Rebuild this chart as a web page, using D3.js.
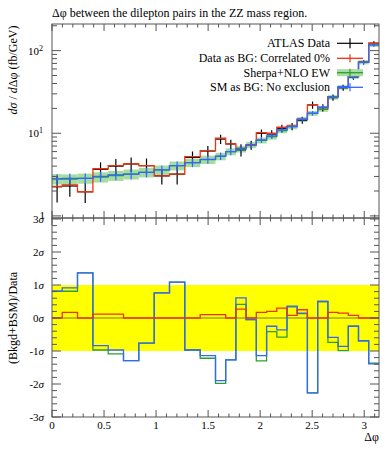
<!DOCTYPE html>
<html><head><meta charset="utf-8">
<script src="https://cdn.jsdelivr.net/npm/d3@7"></script>
<style>body{margin:0;background:#fff} text{font-family:"Liberation Serif","DejaVu Serif",serif;fill:#000}</style>
</head><body><svg id="c" width="392" height="450"></svg>
<script>
const binEdges = [0, 0.098, 0.245, 0.393, 0.540, 0.687, 0.834, 0.982, 1.129, 1.276, 1.424, 1.571,
  1.669, 1.767, 1.865, 1.963, 2.062, 2.160, 2.258, 2.356, 2.454, 2.553, 2.651, 2.749, 2.847, 2.945, 3.043, 3.142];
const dataVals = [2.25, 2.30, 1.96, 3.65, 4.0, 4.25, 4.05, 3.05, 3.2, 5.1, 6.1,
  8.5, 7.42, 6.3, 7.22, 10.0, 9.8, 11.5, 12.1, 14.4, 22.0, 20.4, 27.0, 35.5, 48.0, 72.4, 122.9];
const dataErr = [0.8, 0.6, 0.53, 0.8, 0.88, 0.85, 0.9, 0.65, 0.8, 0.92, 0.9,
  1.1, 0.95, 1.05, 0.9, 1.1, 1.1, 1.2, 1.2, 1.4, 2.2, 2.0, 2.3, 2.8, 3.5, 4.5, 7.0];
const redVals = [2.27, 2.38, 1.96, 3.72, 4.05, 4.25, 4.05, 3.05, 3.2, 5.21, 6.16,
  8.7, 7.42, 6.58, 7.22, 10.17, 10.0, 11.82, 12.26, 14.77, 22.0, 20.4, 27.7, 36.0, 48.4, 72.4, 122.9];
const greenVals = [2.80, 2.78, 2.85, 2.95, 3.08, 3.2, 3.37, 3.6, 4.05, 4.41, 4.80,
  5.25, 5.99, 6.45, 7.22, 8.2, 9.1, 10.8, 12.0, 14.7, 17.4, 19.5, 27.2, 36.0, 48.4, 72.4, 117.5];
const blueVals = [2.80, 2.85, 2.85, 3.0, 3.13, 3.2, 3.37, 3.6, 4.05, 4.41, 4.84,
  5.3, 5.99, 6.58, 7.22, 8.3, 9.28, 10.96, 12.02, 14.77, 17.46, 20.8, 27.7, 36.6, 48.4, 72.4, 117.2];
const mcErr = [0.4, 0.4, 0.4, 0.42, 0.43, 0.44, 0.45, 0.47, 0.5, 0.52, 0.55,
  0.55, 0.58, 0.6, 0.62, 0.68, 0.72, 0.8, 0.85, 1.0, 1.15, 1.3, 1.7, 2.2, 2.9, 4.2, 6.5];
const redSig = [0, 0.17, 0, 0.12, 0.12, 0, 0, 0, 0, 0, 0.1,
  0.1, 0, 0.27, 0, 0.17, 0.2, 0.3, 0.08, 0.25, 0, 0, 0.17, 0.15, 0.08, 0, 0];
const greenSig = [0.81, 0.81, 1.37, -0.97, -1.09, -1.29, -0.76, 0.76, 1.09, -0.97, -1.22,
  -1.98, -1.27, 0.41, -0.05, -1.30, -0.41, -0.58, 0.34, 0.13, -2.27, 0.50, -0.74, -0.99, -0.25, -0.69, -1.37];
const blueSig = [0.81, 0.91, 1.37, -0.84, -0.97, -1.29, -0.76, 0.76, 1.09, -0.97, -1.14,
  -1.90, -1.27, 0.61, -0.05, -1.14, -0.25, -0.36, 0.36, 0.15, -2.27, 0.50, -0.59, -0.86, -0.25, -0.69, -1.39];
const xTicks = [0, 0.5, 1, 1.5, 2, 2.5, 3];
const xTickLabels = ["0", "0.5", "1", "1.5", "2", "2.5", "3"];
const sigTicks = [-3, -2, -1, 0, 1, 2, 3];
const sigLabels = ["-3", "-2", "-1", "0", "1", "2", "3"];
const legendLabels = ["ATLAS Data", "Data as BG: Correlated 0%", "Sherpa+NLO EW", "SM as BG: No exclusion"];

const C = {red: "#ee3311", green: "#2e9e2e", band: "#a6dca0", blue: "#3366ff", frame: "#555"};
const L = 52, R = 379, T1 = 24, B1 = 218, T2 = 218, B2 = 417;
const svg = d3.select("#c");
const x = d3.scaleLinear().domain([0, 3.142]).range([L, R]);
const y = d3.scaleLog().domain([0.943, 210]).range([B1, T1]);
const ys = d3.scaleLinear().domain([-3, 3]).range([B2, T2 + 1]);

svg.append("text").attr("x", L).attr("y", 16.5).attr("font-size", 12)
  .text("Δφ between the dilepton pairs in the ZZ mass region.");

svg.append("clipPath").attr("id", "cp1").append("rect").attr("x", L).attr("y", T1).attr("width", R - L).attr("height", B1 - T1);
svg.append("clipPath").attr("id", "cp2").append("rect").attr("x", L).attr("y", T2).attr("width", R - L).attr("height", B2 - T2);

function stepPts(vals) {
  const p = vals.map((v, i) => [binEdges[i], v]);
  p.push([binEdges[binEdges.length - 1], vals[vals.length - 1]]);
  return p;
}
const g1 = svg.append("g").attr("clip-path", "url(#cp1)");
const stepTop = d3.line().x(d => x(d[0])).y(d => y(d[1])).curve(d3.curveStepAfter);
// band
const bandPts = [];
greenVals.forEach((v, i) => { bandPts.push({x0: binEdges[i], x1: binEdges[i+1], lo: v - mcErr[i], hi: v + mcErr[i]}); });
g1.selectAll("rect.band").data(bandPts).join("rect")
  .attr("x", d => x(d.x0)).attr("width", d => x(d.x1) - x(d.x0))
  .attr("y", d => y(d.hi)).attr("height", d => y(d.lo) - y(d.hi)).attr("fill", C.band);
// data first (MC drawn on top)
dataVals.forEach((v, i) => {
  const xc = x((binEdges[i] + binEdges[i+1]) / 2);
  g1.append("line").attr("x1", xc).attr("x2", xc).attr("y1", y(v - dataErr[i])).attr("y2", y(v + dataErr[i])).attr("stroke", "#000").attr("stroke-width", 1.2);
  g1.append("line").attr("x1", x(binEdges[i])).attr("x2", x(binEdges[i+1])).attr("y1", y(v)).attr("y2", y(v)).attr("stroke", "#000").attr("stroke-width", 1.2);
});
g1.append("path").attr("d", stepTop(stepPts(greenVals))).attr("fill", "none").attr("stroke", C.green).attr("stroke-width", 1.3);
g1.append("path").attr("d", stepTop(stepPts(redVals))).attr("fill", "none").attr("stroke", C.red).attr("stroke-width", 1.3);
g1.append("path").attr("d", stepTop(stepPts(blueVals))).attr("fill", "none").attr("stroke", C.blue).attr("stroke-width", 1.3);
blueVals.forEach((v, i) => {
  const xc = x((binEdges[i] + binEdges[i+1]) / 2);
  g1.append("line").attr("x1", xc).attr("x2", xc).attr("y1", y(v - mcErr[i])).attr("y2", y(v + mcErr[i])).attr("stroke", C.blue).attr("stroke-width", 1.2);
});

// bottom panel
const g2 = svg.append("g").attr("clip-path", "url(#cp2)");
g2.append("rect").attr("x", L).attr("width", R - L).attr("y", ys(1)).attr("height", ys(-1) - ys(1)).attr("fill", "#ffff00");
g2.append("line").attr("x1", L).attr("x2", R).attr("y1", ys(0)).attr("y2", ys(0)).attr("stroke", "#7a7a40").attr("stroke-width", 1);
const stepBot = d3.line().x(d => x(d[0])).y(d => ys(d[1])).curve(d3.curveStepAfter);
[[greenSig, C.green], [blueSig, C.blue], [redSig, C.red]].forEach(([vals, col]) => {
  g2.append("path").attr("d", stepBot(stepPts(vals))).attr("fill", "none").attr("stroke", col).attr("stroke-width", 1.3);
});

// frames & ticks
const fr = svg.append("g").attr("stroke", C.frame).attr("stroke-width", 1).attr("fill", "none");
fr.append("rect").attr("x", L).attr("y", T1).attr("width", R - L).attr("height", B1 - T1);
fr.append("rect").attr("x", L).attr("y", T2).attr("width", R - L).attr("height", B2 - T2);
const minorX = d3.range(0, 32).map(i => i / 10);
function xTicksAt(yy, dir) {
  minorX.forEach(v => {
    const major = Math.abs(v * 2 - Math.round(v * 2)) < 1e-6;
    const len = major ? 7 : 3.5;
    fr.append("line").attr("x1", x(v)).attr("x2", x(v)).attr("y1", yy).attr("y2", yy + dir * len);
  });
}
xTicksAt(T1, 1); xTicksAt(B1, -1); xTicksAt(T2, 1); xTicksAt(B2, -1);
const logTicks = [];
[1, 10, 100].forEach(dec => { for (let k = 1; k <= 9; k++) { const v = dec * k; if (v >= 0.943 && v <= 210) logTicks.push([v, k === 1]); } });
logTicks.forEach(([v, maj]) => {
  const len = maj ? 9 : 5;
  fr.append("line").attr("x1", L).attr("x2", L + len).attr("y1", y(v)).attr("y2", y(v));
  fr.append("line").attr("x1", R).attr("x2", R - len).attr("y1", y(v)).attr("y2", y(v));
});
d3.range(-15, 16).map(i => i / 5).forEach(v => {
  const maj = Math.abs(v - Math.round(v)) < 1e-6;
  const len = maj ? 9 : 5;
  fr.append("line").attr("x1", L).attr("x2", L + len).attr("y1", ys(v)).attr("y2", ys(v));
  fr.append("line").attr("x1", R).attr("x2", R - len).attr("y1", ys(v)).attr("y2", ys(v));
});

// labels
xTicks.forEach((v, i) => {
  svg.append("text").attr("x", x(v)).attr("y", 429).attr("font-size", 11).attr("text-anchor", "middle").text(xTickLabels[i]);
});
svg.append("text").attr("x", R).attr("y", 441).attr("font-size", 12).attr("text-anchor", "end").text("Δφ");
[[100, "2"], [10, "1"]].forEach(([v, e]) => {
  const t = svg.append("text").attr("x", 43).attr("y", y(v) + 4).attr("font-size", 11).attr("text-anchor", "end");
  t.append("tspan").text("10");
  t.append("tspan").attr("dy", -4).attr("font-size", 8).text(e);
});
svg.append("text").attr("x", 45).attr("y", y(1) + 3).attr("font-size", 11).attr("text-anchor", "end").text("1");
sigTicks.forEach((v, i) => {
  const t = svg.append("text").attr("x", 44).attr("y", ys(v) + 4).attr("font-size", 11).attr("text-anchor", "end");
  t.append("tspan").text(sigLabels[i]);
  t.append("tspan").attr("font-style", "italic").text("σ");
});
const yl = svg.append("text").attr("transform", `translate(17,70) rotate(-90)`).attr("font-size", 12).attr("text-anchor", "middle");
yl.append("tspan").attr("font-style", "italic").text("dσ");
yl.append("tspan").text(" / ");
yl.append("tspan").attr("font-style", "italic").text("d");
yl.append("tspan").text("Δφ (fb/GeV)");
svg.append("text").attr("transform", `translate(17,${ys(0)}) rotate(-90)`).attr("font-size", 12).attr("text-anchor", "middle").text("(Bkgd+BSM)/Data");

// legend
const ly = [43.3, 58.3, 72.7, 87.3];
const lg = svg.append("g");
legendLabels.forEach((s, i) => {
  lg.append("text").attr("x", 330).attr("y", ly[i] + 4).attr("font-size", 12).attr("text-anchor", "end").text(s);
});
lg.append("line").attr("x1", 337).attr("x2", 363).attr("y1", ly[0]).attr("y2", ly[0]).attr("stroke", "#000").attr("stroke-width", 1.2);
lg.append("line").attr("x1", 350).attr("x2", 350).attr("y1", ly[0] - 5).attr("y2", ly[0] + 5).attr("stroke", "#000").attr("stroke-width", 1.2);
lg.append("line").attr("x1", 337).attr("x2", 363).attr("y1", ly[1]).attr("y2", ly[1]).attr("stroke", C.red).attr("stroke-width", 1.3);
lg.append("line").attr("x1", 350).attr("x2", 350).attr("y1", ly[1] - 4).attr("y2", ly[1] + 4).attr("stroke", C.red).attr("stroke-width", 1.2);
lg.append("rect").attr("x", 337).attr("width", 26).attr("y", ly[2] - 3.5).attr("height", 7).attr("fill", C.band);
lg.append("line").attr("x1", 337).attr("x2", 363).attr("y1", ly[2]).attr("y2", ly[2]).attr("stroke", C.green).attr("stroke-width", 1.3);
lg.append("line").attr("x1", 350).attr("x2", 350).attr("y1", ly[2] - 4).attr("y2", ly[2] + 4).attr("stroke", C.green).attr("stroke-width", 1.2);
lg.append("line").attr("x1", 337).attr("x2", 363).attr("y1", ly[3]).attr("y2", ly[3]).attr("stroke", C.blue).attr("stroke-width", 1.3);
lg.append("line").attr("x1", 350).attr("x2", 350).attr("y1", ly[3] - 4).attr("y2", ly[3] + 4).attr("stroke", C.blue).attr("stroke-width", 1.2);
</script></body></html>
